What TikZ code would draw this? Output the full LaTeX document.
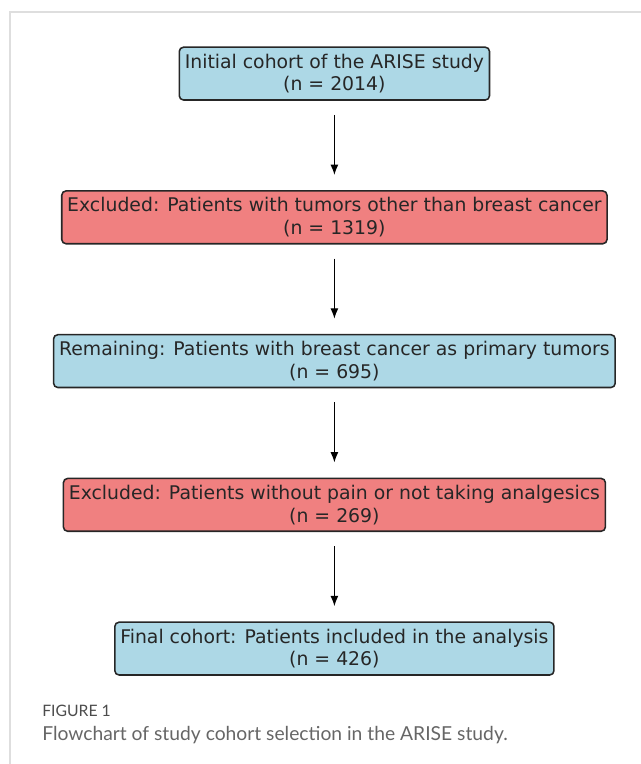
\documentclass[tikz,border=0pt]{standalone}
\usepackage{fontspec}
\setmainfont{DejaVu Sans}
\newfontfamily\capfont{Lato}
\usetikzlibrary{positioning, arrows.meta}

\begin{document}
\begin{tikzpicture}[node distance=2.235cm,
	every node/.style={font=\fontsize{13.4pt}{16.1pt}\selectfont, text=black!85},
	cohort/.style={rectangle, rounded corners=3pt, draw=black!85, line width=1.1pt, fill=lightblue, align=center, inner xsep=3.9pt, inner ysep=2pt, minimum height=1.32cm},
	excl/.style={cohort, fill=lightcoral},
	arr/.style={-{Latex[length=0.26cm, width=0.2cm]}, line width=0.9pt, shorten <=0.35cm, shorten >=0.38cm},
	capt/.style={anchor=base west, inner sep=0pt, text=black!60}
	]
\definecolor{lightblue}{HTML}{ADD8E6}
\definecolor{lightcoral}{HTML}{F08080}

\useasboundingbox (0,0) rectangle (16.025,-19.1);
% frame
\draw[black!13, line width=0.8pt] (0.25,-19.1) -- (0.25,-0.3) -- (16.025,-0.3);

\node[cohort] (initial) at (8.36,-1.84) {Initial cohort of the ARISE study\\(n = 2014)};
\node[excl, below=of initial] (excl1) {Excluded: Patients with tumors other than breast cancer\\(n = 1319)};
\node[cohort, below=of excl1] (remain) {Remaining: Patients with breast cancer as primary tumors\\(n = 695)};
\node[excl, below=of remain] (excl2) {Excluded: Patients without pain or not taking analgesics\\(n = 269)};
\node[cohort, below=of excl2] (final) {Final cohort: Patients included in the analysis\\(n = 426)};

\path[arr]
(initial) edge (excl1)
(excl1) edge (remain)
(remain) edge (excl2)
(excl2) edge (final);

% caption
\node[capt, font=\capfont\fontsize{11.2pt}{13pt}\selectfont, text=black!70] (fig) at (1.05,-17.92) {FIGURE 1};
\node[capt, font=\capfont\fontsize{13.7pt}{15pt}\selectfont] (caption) at (1.05,-18.5) {Flowchart of study cohort selection in the ARISE study.};

\end{tikzpicture}
\end{document}
